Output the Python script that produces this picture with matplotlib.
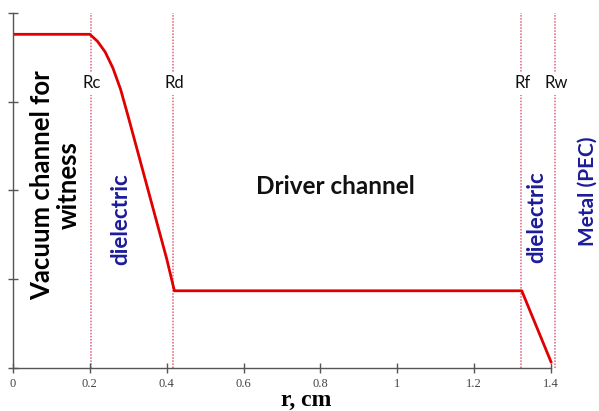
import matplotlib
matplotlib.use("Agg")
import matplotlib.pyplot as plt
import numpy as np

# profile of the structure (r in cm, arbitrary units)
r = [0.0, 0.20, 0.22, 0.24, 0.26, 0.28, 0.30, 0.32, 0.34, 0.36, 0.38, 0.40, 0.42,
     1.324, 1.40]
f = [3.76, 3.76, 3.68, 3.56, 3.38, 3.14, 2.83, 2.51, 2.19, 1.87, 1.55, 1.23, 0.87,
     0.87, 0.07]

# boundaries
bnd_names = ["Rc", "Rd", "Rf", "Rw"]
bnd_pos = [0.202, 0.416, 1.321, 1.41]

xticks = [0, 0.2, 0.4, 0.6, 0.8, 1.0, 1.2, 1.4]
xticklabels = ["0", "0.2", "0.4", "0.6", "0.8", "1", "1.2", "1.4"]
yticks = [0, 1, 2, 3, 4]

SANS = ["Lato", "DejaVu Sans"]
BLUE = "#1c1c9a"

fig = plt.figure(figsize=(5.99, 4.11), dpi=100)
ax = fig.add_axes([13 / 599, 43 / 411, 586 / 599, 355 / 411])
ax.set_xlim(0, 1.525)
ax.set_ylim(0, 4)

for xb, nm in zip(bnd_pos, bnd_names):
    ax.axvline(xb, ls=(0, (1.0, 1.0)), lw=1.1, color="#e0607a", zorder=1)
    ax.text(xb + 0.004, 3.21, nm, ha="center", va="center", fontsize=12,
            family=SANS, color="#111111", zorder=3,
            bbox=dict(fc="white", ec="none", pad=2.5))

ax.plot(r, f, color="#e00000", lw=2, zorder=2)

ax.text(0.11, 2.06, "Vacuum channel for\nwitness", rotation=90, ha="center",
        va="center", fontsize=18.5, fontweight="bold", family=SANS,
        linespacing=1.1, color="black")
ax.text(0.28, 1.68, "dielectric", rotation=90, ha="center", va="center",
        fontsize=16, family=SANS, fontweight="bold", color=BLUE)
ax.text(0.84, 2.04, "Driver channel", ha="center", va="center", fontsize=17.5,
        fontweight="bold", family=SANS, color="#111111")
ax.text(1.363, 1.70, "dielectric", rotation=90, ha="center", va="center",
        fontsize=16, family=SANS, fontweight="bold", color=BLUE)
ax.text(1.496, 1.99, "Metal (PEC)", rotation=90, ha="center", va="center",
        fontsize=15, family=SANS, fontweight="bold", color=BLUE)

for s in ["top", "right"]:
    ax.spines[s].set_visible(False)
ax.spines["bottom"].set_bounds(0, 1.4)
for s in ["left", "bottom"]:
    ax.spines[s].set_color("#555555")
    ax.spines[s].set_linewidth(1.0)

ax.set_xticks(xticks)
ax.set_xticklabels(xticklabels, family="Liberation Serif", fontsize=9)
ax.set_yticks(yticks)
ax.set_yticklabels([])
ax.tick_params(direction="inout", length=7, width=1, color="#555555",
               labelcolor="#444444", pad=4)
ax.set_xlabel("r, cm", family="Liberation Serif", fontweight="bold",
              fontsize=17, labelpad=0)

fig.savefig("out.png", dpi=100)
